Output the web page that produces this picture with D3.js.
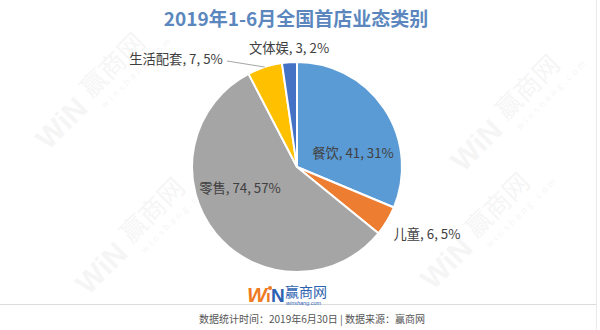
<!DOCTYPE html>
<html>
<head>
<meta charset="utf-8">
<script src="https://cdn.jsdelivr.net/npm/d3@7"></script>
<style>
  html, body { margin: 0; padding: 0; background: #fff; }
  svg { display: block; font-family: "Noto Sans CJK SC", "Noto Sans", sans-serif; }
</style>
</head>
<body>
<svg id="chart" width="600" height="330"></svg>
<script>
// Store-opening categories, Jan–Jun 2019
const categories = ["餐饮", "儿童", "零售", "生活配套", "文体娱"];
const counts = [41, 6, 74, 7, 3];
const percents = ["31%", "5%", "57%", "5%", "2%"];
const colors = ["#5B9BD5", "#ED7D31", "#A5A5A5", "#FFC000", "#4472C4"];

const titleText = "2019年1-6月全国首店业态类别";
const footerText = "数据统计时间：2019年6月30日 | 数据来源：赢商网";

// label anchor points (chart layout)
const labelLayout = [
  { x: 353, y: 152 },
  { x: 427, y: 233 },
  { x: 240, y: 187 },
  { x: 176, y: 58, leader: true },
  { x: 289, y: 47 }
];

const svg = d3.select("#chart");
const W = 600, H = 330;
const cx = 297, cy = 167, R = 105;

// faint diagonal watermarks
const wmSpots = [[85, 100], [125, 245], [500, 122], [470, 240]];
wmSpots.forEach(([x, y]) => {
  const g = svg.append("g")
    .attr("transform", `translate(${x},${y}) rotate(-45)`)
    .attr("opacity", 0.045);
  g.append("text").attr("x", -62).attr("y", 10)
    .attr("font-size", 30).attr("font-weight", 900).attr("fill", "#333")
    .attr("font-family", "Arial, Liberation Sans, sans-serif")
    .text("WiN");
  g.append("text").attr("x", 5).attr("y", 4)
    .attr("font-size", 26).attr("fill", "#333").text("赢商网");
  g.append("text").attr("x", 8).attr("y", 20)
    .attr("font-size", 9).attr("letter-spacing", 3).attr("fill", "#333")
    .text("winshang.com");
});

// title
svg.append("text")
  .attr("x", 296).attr("y", 26)
  .attr("text-anchor", "middle")
  .attr("font-size", 19).attr("font-weight", 700)
  .attr("fill", "#5B87BE")
  .text(titleText);

// pie
const data = categories.map((c, i) => ({ name: c, value: counts[i], pct: percents[i], color: colors[i] }));
const pie = d3.pie().value(d => d.value).sort(null);
const arcs = pie(data);
const arc = d3.arc().innerRadius(0).outerRadius(R);

const pg = svg.append("g").attr("transform", `translate(${cx},${cy})`);
pg.selectAll("path")
  .data(arcs)
  .join("path")
  .attr("d", arc)
  .attr("fill", d => d.data.color)
  .attr("stroke", "#fff")
  .attr("stroke-width", 2)
  .attr("stroke-linejoin", "round");

// labels
arcs.forEach((a, i) => {
  const L = labelLayout[i];
  if (L.leader) {
    const mid = (a.startAngle + a.endAngle) / 2;
    const ex = cx + R * Math.sin(mid), ey = cy - R * Math.cos(mid);
    svg.append("path")
      .attr("d", `M${L.x + 51},${L.y + 3}L${ex},${ey}`)
      .attr("stroke", "#A6A6A6").attr("stroke-width", 1).attr("fill", "none");
  }
  svg.append("text")
    .attr("x", L.x).attr("y", L.y)
    .attr("text-anchor", "middle")
    .attr("dominant-baseline", "central")
    .attr("font-size", 13.3)
    .attr("fill", "#404040")
    .text(`${a.data.name}, ${a.data.value}, ${a.data.pct}`);
});

// right border
svg.append("line").attr("x1", 596.5).attr("x2", 596.5).attr("y1", 0).attr("y2", H)
  .attr("stroke", "#eaeaea");

// footer separator
svg.append("line").attr("x1", 0).attr("x2", 596).attr("y1", 304.5).attr("y2", 304.5)
  .attr("stroke", "#dcdcdc").attr("stroke-width", 1);

// footer logo
const logo = svg.append("g").attr("transform", "translate(247,284)");
logo.append("text").attr("x", 0).attr("y", 18)
  .attr("font-size", 21).attr("font-weight", 900).attr("font-style", "italic")
  .attr("font-family", "Arial, Liberation Sans, sans-serif")
  .attr("fill", "#EE7B22").text("W");
logo.append("text").attr("x", 19).attr("y", 18)
  .attr("font-size", 17).attr("font-weight", 900)
  .attr("font-family", "Arial, Liberation Sans, sans-serif")
  .attr("fill", "#EE7B22").text("ı");
logo.append("circle").attr("cx", 23).attr("cy", 4).attr("r", 2).attr("fill", "#EE7B22");
logo.append("text").attr("x", 24).attr("y", 18)
  .attr("font-size", 19).attr("font-weight", 900)
  .attr("font-family", "Arial, Liberation Sans, sans-serif")
  .attr("fill", "#2C62B0").text("N");
const brand = logo.append("text").attr("fill", "#2C62B0");
brand.append("tspan").attr("x", 38).attr("y", 13)
  .attr("font-size", 14).text("赢商网");
brand.append("tspan").attr("x", 39).attr("y", 20.5)
  .attr("font-size", 5.5).attr("font-style", "italic")
  .attr("font-family", "Arial, Liberation Sans, sans-serif")
  .text("winshang.com");

// footer source line
svg.append("text")
  .attr("x", 312).attr("y", 323)
  .attr("text-anchor", "middle")
  .attr("font-size", 10)
  .attr("fill", "#555")
  .text(footerText);
</script>
</body>
</html>
